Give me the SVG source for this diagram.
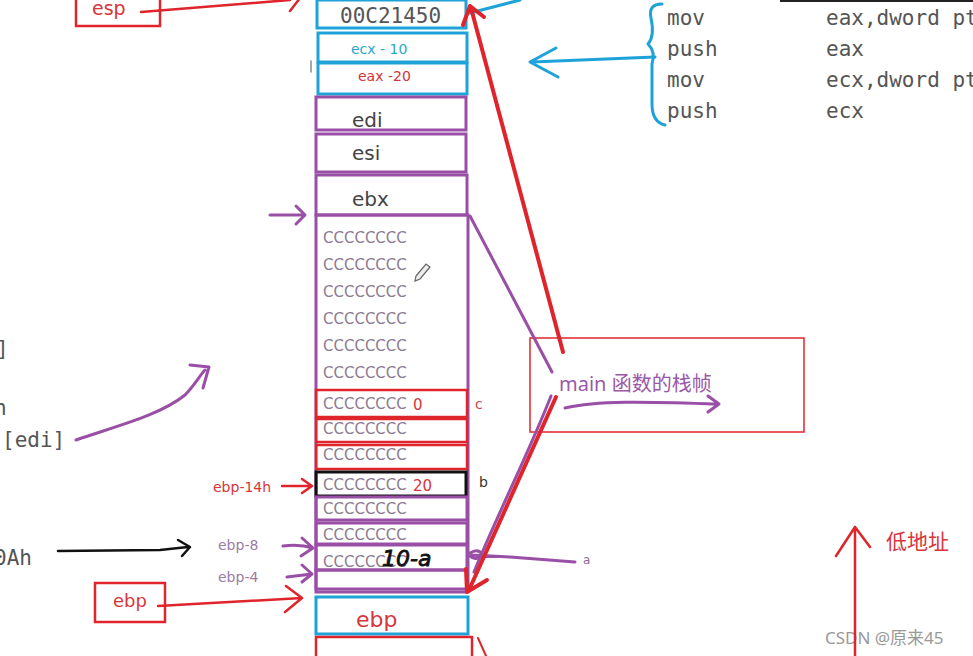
<svg xmlns="http://www.w3.org/2000/svg" width="973" height="656" viewBox="0 0 973 656">
<style>
.mono{font-family:"DejaVu Sans Mono","Liberation Mono",monospace;fill:#555;font-size:21px}
.reg{font-family:"DejaVu Sans",sans-serif;fill:#444;font-size:20px}
.cc{font-family:"DejaVu Sans",sans-serif;fill:#8c7c92;font-size:15px}
.blue{fill:none;stroke:#1ea3d8;stroke-width:3}
.pur{fill:none;stroke:#9a4fa6;stroke-width:3}
.red{fill:none;stroke:#e0242b;stroke-width:2.5}
.blk{fill:none;stroke:#111;stroke-width:3}
.ln{fill:none;stroke-linecap:round;stroke-linejoin:round}
.lbl{font-family:"DejaVu Sans",sans-serif;font-size:14px}
</style>
<rect width="973" height="656" fill="#fff"/>
<rect x="780" y="0" width="193" height="2" fill="#222"/>

<g id="code-right">
<text class="mono" x="667" y="25">mov</text>
<text class="mono" x="667" y="56">push</text>
<text class="mono" x="667" y="87">mov</text>
<text class="mono" x="667" y="118">push</text>
<text class="mono" x="826" y="25">eax,dword pt</text>
<text class="mono" x="826" y="56">eax</text>
<text class="mono" x="826" y="87">ecx,dword pt</text>
<text class="mono" x="826" y="118">ecx</text>
</g>
<g id="code-left">
<text class="mono" x="-4" y="356">]</text>
<text class="mono" x="-6" y="415">h</text>
<text class="mono" x="2" y="447">[edi]</text>
<text class="mono" x="-6" y="565">0Ah</text>
</g>

<g id="esp-box">
<rect x="76" y="-4" width="84" height="30" class="red" stroke-width="2"/>
<text x="92" y="15" class="lbl" style="font-size:19px" fill="#d8353b">esp</text>
</g>

<g id="cell-ret">
<rect x="317" y="0" width="149" height="28" class="blue"/>
<text x="340" y="23" class="mono" style="font-size:21px">00C21450</text>
</g>
<g id="cell-ecx">
<rect x="318" y="33" width="149" height="29" class="blue"/>
<text x="351" y="54" class="lbl" fill="#2aa7c9">ecx - 10</text>
</g>
<g id="cell-eax">
<rect x="318" y="63" width="149" height="31" class="blue"/>
<text x="358" y="81" class="lbl" fill="#d0343c">eax -20</text>
</g>
<g id="cell-edi">
<rect x="316" y="97" width="150" height="33" class="pur"/>
<text x="352" y="127" class="reg">edi</text>
</g>
<g id="cell-esi">
<rect x="316" y="134" width="150" height="38" class="pur"/>
<text x="352" y="160" class="reg">esi</text>
</g>
<g id="cell-ebx">
<rect x="316" y="175" width="151" height="40" class="pur"/>
<text x="352" y="206" class="reg">ebx</text>
</g>
<g id="locals">
<rect x="316" y="215" width="152" height="374" class="pur"/>
<text class="cc" x="323" y="243">CCCCCCCC</text>
<text class="cc" x="323" y="270">CCCCCCCC</text>
<text class="cc" x="323" y="297">CCCCCCCC</text>
<text class="cc" x="323" y="324">CCCCCCCC</text>
<text class="cc" x="323" y="351">CCCCCCCC</text>
<text class="cc" x="323" y="378">CCCCCCCC</text>
</g>
<g id="pencil">
<path d="M416,276 L426,264 L430,267 L420,279 L415,281 Z" fill="#eee" stroke="#666" stroke-width="1.2"/>
</g>
<g id="cell-c">
<rect x="316" y="390" width="151" height="27" class="red"/>
<text class="cc" x="323" y="409">CCCCCCCC</text>
<text x="413" y="410" class="lbl" style="font-size:15px" fill="#d8353b">0</text>
<text x="475" y="409" class="lbl" fill="#c8484e">c</text>
</g>
<g id="cell-r2">
<rect x="316" y="419" width="151" height="23" class="red"/>
<text class="cc" x="323" y="434">CCCCCCCC</text>
</g>
<g id="cell-r3">
<rect x="316" y="445" width="151" height="24" class="red"/>
<text class="cc" x="323" y="460">CCCCCCCC</text>
</g>
<g id="cell-b">
<rect x="316" y="472" width="150" height="24" class="blk"/>
<text class="cc" x="323" y="490">CCCCCCCC</text>
<text x="413" y="491" class="lbl" style="font-size:15px" fill="#d8353b">20</text>
<text x="479" y="487" class="lbl" fill="#333">b</text>
</g>
<g id="cell-p1">
<rect x="316" y="497" width="151" height="23" class="pur"/>
<text class="cc" x="323" y="514">CCCCCCCC</text>
</g>
<g id="cell-p2">
<rect x="316" y="523" width="151" height="21" class="pur"/>
<text class="cc" x="323" y="540">CCCCCCCC</text>
</g>
<g id="cell-a">
<rect x="316" y="545" width="151" height="25" class="pur"/>
<text class="cc" x="323" y="567">CCCCCCCC</text>
<text x="382" y="566" style="font-family:'DejaVu Sans',sans-serif;font-size:22px;font-style:italic" fill="#111" stroke="#111" stroke-width="0.8">10-a</text>
</g>
<g id="cell-empty">
<rect x="316" y="570" width="151" height="22" class="pur"/>
</g>
<g id="cell-ebp">
<rect x="316" y="597" width="152" height="37" class="blue"/>
<text x="356" y="627" class="lbl" style="font-size:22px" fill="#d8353b">ebp</text>
</g>
<g id="cell-bottom">
<rect x="316" y="637" width="156" height="30" class="red"/>
</g>

<g id="main-frame">
<rect x="530" y="338" width="274" height="94" fill="none" stroke="#e0242b" stroke-width="1.5"/>
<text x="559" y="391" style="font-family:'Noto Sans','Noto Sans CJK SC',sans-serif;font-size:20px" fill="#9a58a8">main 函数的栈帧</text>
</g>
<g id="low-addr">
<text x="886" y="549" style="font-family:'Noto Sans CJK SC',sans-serif;font-size:21px" fill="#d8353b">低地址</text>
</g>
<g id="ebp-box">
<rect x="95" y="583" width="70" height="39" class="red" stroke-width="2"/>
<text x="113" y="607" class="lbl" style="font-size:18px" fill="#d8353b">ebp</text>
</g>
<g id="side-labels">
<text x="213" y="492" class="lbl" fill="#d8353b">ebp-14h</text>
<text x="218" y="550" class="lbl" fill="#9a7ba6">ebp-8</text>
<text x="218" y="582" class="lbl" fill="#9a7ba6">ebp-4</text>
<text x="583" y="564" class="lbl" style="font-size:12px" fill="#8a6a9a">a</text>
</g>
<g id="watermark">
<text x="825" y="644" style="font-family:'Noto Sans','Noto Sans CJK SC',sans-serif;font-size:17px" fill="#999">CSDN @原来45</text>
</g>

<g id="connectors" class="ln">
<path d="M141,12 L290,0" stroke="#e0242b" stroke-width="2.5" fill="none"/>
<path d="M290,11 L300,-2" stroke="#e0242b" stroke-width="2.5" fill="none"/>
<path d="M311,61 L311,72" stroke="#888" stroke-width="1.5"/>
<path d="M470,13 L520,0" class="blue" stroke-width="2"/>
<path d="M662,4 Q648,4 651,18 Q655,36 648,44 Q656,52 652,64 L652,104 Q652,122 665,125" class="blue" stroke-width="2.5"/>
<path d="M655,57 L532,62 M556,48 L530,62 L558,77" class="blue" stroke-width="2.5"/>
<path d="M270,215 L305,215 M296,206 L305,215 L296,224" class="pur" stroke-width="2"/>
<path d="M470,216 L552,372" class="pur" stroke-width="2"/>
<path d="M551,396 C530,450 495,520 474,572" class="pur" stroke-width="2"/>
<path d="M470,553 Q478,548 482,554 Q476,562 470,556 M472,555 L510,557 L575,562" class="pur" stroke-width="2"/>
<path d="M563,352 L471,8" stroke="#e0242b" stroke-width="4" fill="none"/>
<path d="M463,25 L470,6 L484,17" stroke="#e0242b" stroke-width="4" fill="none"/>
<path d="M556,397 L469,590" stroke="#e0242b" stroke-width="4" fill="none"/>
<path d="M466,569 L467,592 L487,580" stroke="#e0242b" stroke-width="4" fill="none"/>
<path d="M565,408 C600,400 650,402 716,404 M708,396 L719,404 L708,412" class="pur" stroke-width="2.5"/>
<path d="M478,638 L486,656" stroke="#e0242b" stroke-width="2" fill="none"/>
<path d="M855,656 L855,527 M836,556 L855,527 L870,547" stroke="#e0242b" stroke-width="2.5" fill="none"/>
<path d="M76,440 C120,425 160,415 185,395 C195,385 200,375 205,370 M190,365 L209,367 L203,388" class="pur" stroke-width="2.5"/>
<path d="M58,551 L160,550 L188,547 M178,540 L190,547 L182,556" stroke="#111" stroke-width="2.5" fill="none"/>
<path d="M282,486 L312,486 M302,479 L312,486 L302,493" stroke="#e0242b" stroke-width="2.5" fill="none"/>
<path d="M283,546 Q300,544 313,548 M302,538 L313,548 L301,556" class="pur" stroke-width="2"/>
<path d="M287,577 L312,574 M302,565 L312,574 L302,582" class="pur" stroke-width="2"/>
<path d="M158,606 L302,598 M286,586 L302,598 L285,612" stroke="#e0242b" stroke-width="2.5" fill="none"/>
</g>
</svg>
